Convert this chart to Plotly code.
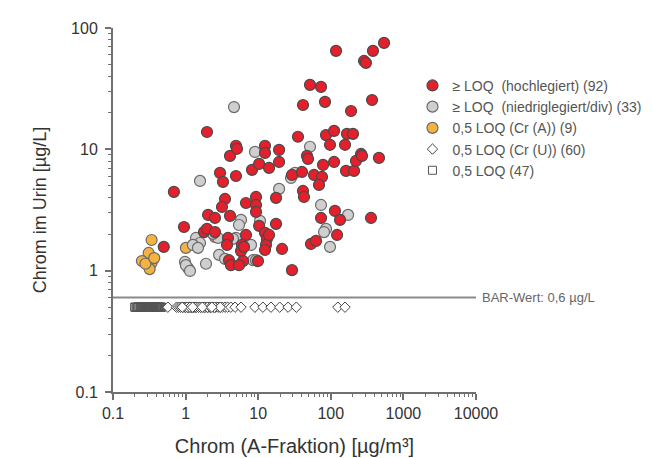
import math
import plotly.graph_objects as go

# ≥ LOQ (hochlegiert): Chrom A-Fraktion [µg/m³], Chrom im Urin [µg/L]
red_x = [118, 381, 541, 287, 305, 51.7, 73.3, 41.4, 83.2, 190, 370, 1.97, 4.94, 35.3, 85.9,
         111, 167, 202, 97.5, 157, 12.4, 19.4, 12.4, 4.09, 47.0, 261, 461, 2.98, 3.27, 4.94,
         8.22, 10.3, 14.1, 19.4, 29.2, 40.1, 58.7, 75.7, 68.8, 78.1, 111, 162, 209, 222, 0.69,
         3.49, 3.17, 6.79, 9.33, 9.33, 9.33, 17.6, 41.4, 42.7, 2.04, 2.54, 4.09, 0.95, 1.79,
         1.97, 2.54, 10.3, 17.6, 12.4, 13.2, 6.79, 3.84, 3.72, 5.98, 12.8, 12.4, 5.80, 21.3,
         0.50, 3.96, 4.22, 6.18, 5.44, 9.94, 29.2, 53.3, 62.6, 73.3, 114, 134, 122, 358,
         5.11, 48.5, 14.1, 6.37, 269]
red_y = [64.8, 64.8, 75.4, 53.5, 51.6, 34.0, 32.7, 23.2, 24.6, 20.7, 25.5, 13.9, 10.7, 12.7, 13.1,
         14.2, 13.4, 13.4, 10.9, 10.9, 10.7, 9.89, 9.34, 8.83, 8.83, 9.16, 8.50, 6.39, 5.39, 6.03,
         6.77, 7.58, 7.03, 7.87, 6.15, 6.51, 6.15, 5.92, 5.09, 7.44, 7.87, 6.64, 6.64, 8.02, 4.46,
         3.90, 3.35, 3.61, 4.05, 3.48, 3.05, 3.98, 4.54, 4.05, 2.88, 2.72, 2.83, 2.29, 2.08,
         2.21, 2.08, 2.34, 2.43, 2.05, 1.83, 1.97, 1.86, 1.63, 1.63, 1.63, 1.48, 1.45, 1.51,
         1.57, 1.22, 1.11, 1.20, 1.11, 1.20, 1.01, 1.66, 1.76, 2.72, 3.11, 2.62, 1.97, 2.72,
         10.1, 8.34, 1.97, 1.57, 8.83]

# ≥ LOQ (niedriglegiert/div)
gray_x = [4.64, 9.04, 51.7, 1.58, 28.3, 19.4, 73.3, 173, 85.9, 80.6, 97.5, 5.80, 5.44, 10.6,
          1.39, 1.58, 1.26, 1.48, 2.79, 4.94, 7.96, 2.89, 3.49, 8.48, 1.91, 0.98, 1.08, 1.01,
          1.15, 4.50, 9.33, 32.1, 2.38]
gray_y = [22.3, 9.52, 10.5, 5.49, 5.81, 4.72, 3.48, 2.88, 2.21, 2.08, 1.57, 2.62, 2.38, 2.57,
          1.86, 1.69, 1.63, 1.54, 1.86, 1.86, 1.63, 1.35, 1.25, 1.22, 1.14, 1.18, 1.05, 1.11,
          0.995, 1.83, 1.22, 6.39, 2.01]

# 0,5 LOQ (Cr (A))
orange_x = [0.34, 0.31, 0.25, 0.34, 0.32, 1.01, 2.54, 0.28, 0.37]
orange_y = [1.79, 1.40, 1.20, 1.16, 1.03, 1.54, 1.90, 1.14, 1.27]

# 0,5 LOQ (Cr (U)) – urine at 0.5 LOQ
diamond_x = [0.57, 0.75, 0.8, 0.85, 0.9, 0.95, 1.0, 1.0, 1.05, 1.1, 1.15, 1.2, 1.25, 1.3, 1.35,
             1.4, 1.5, 1.6, 1.7, 1.8, 1.9, 2.0, 2.1, 2.2, 2.4, 2.6, 2.8, 3.0, 3.2, 3.5, 3.8,
             4.2, 4.8, 5.8, 9.0, 11.6, 15, 19.8, 25.8, 33.5, 125, 157, 1.0, 1.1, 1.2, 1.3,
             1.4, 1.5, 1.6, 1.8, 2.0, 2.2, 2.5, 3.0, 1.05, 1.15, 1.25, 1.7, 2.3, 0.9]
diamond_y = [0.5] * len(diamond_x)

# 0,5 LOQ (both)
square_x = [0.2, 0.2, 0.21, 0.22, 0.22, 0.23, 0.24, 0.24, 0.25, 0.25, 0.26, 0.26, 0.27, 0.28,
            0.28, 0.29, 0.3, 0.3, 0.3, 0.31, 0.32, 0.32, 0.33, 0.34, 0.35, 0.35, 0.36, 0.37,
            0.38, 0.38, 0.39, 0.4, 0.4, 0.41, 0.42, 0.42, 0.43, 0.44, 0.45, 0.45, 0.46, 0.47,
            0.22, 0.25, 0.3, 0.35, 0.4]
square_y = [0.5] * len(square_x)

bar_value = 0.6
x_ticks = [0.1, 1, 10, 100, 1000, 10000]
x_ticklabels = ["0.1", "1", "10", "100", "1000", "10000"]
y_ticks = [0.1, 1, 10, 100]
y_ticklabels = ["0.1", "1", "10", "100"]

NB = "\u00a0"
fig = go.Figure()
fig.add_trace(go.Scatter(
    x=[0.1, 11000], y=[bar_value, bar_value], mode="lines", cliponaxis=False,
    line=dict(color="#8a8a8a", width=2), showlegend=False, hoverinfo="skip"))
fig.add_trace(go.Scatter(
    x=square_x, y=square_y, mode="markers", name="0,5 LOQ (47)",
    marker=dict(symbol="square-open", size=8, color="#555555", line=dict(width=1))))
fig.add_trace(go.Scatter(
    x=diamond_x, y=diamond_y, mode="markers", name="0,5 LOQ (Cr (U)) (60)",
    marker=dict(symbol="diamond", size=8, color="white", line=dict(color="#444444", width=1))))
fig.add_trace(go.Scatter(
    x=orange_x, y=orange_y, mode="markers", name="0,5 LOQ (Cr (A)) (9)",
    marker=dict(symbol="circle", size=11, color="#f4b340", line=dict(color="#6a6a6a", width=1.2))))
fig.add_trace(go.Scatter(
    x=gray_x, y=gray_y, mode="markers", name=f"≥ LOQ{NB}{NB}(niedriglegiert/div) (33)",
    marker=dict(symbol="circle", size=11, color="#cfcfcf", line=dict(color="#6a6a6a", width=1.2))))
fig.add_trace(go.Scatter(
    x=red_x, y=red_y, mode="markers", name=f"≥ LOQ{NB}{NB}(hochlegiert) (92)",
    marker=dict(symbol="circle", size=11, color="#e3202c", line=dict(color="#4a4a4a", width=1.2))))

fig.add_annotation(x=1.01, xref="paper", y=math.log10(bar_value), yref="y",
                   yanchor="middle", xanchor="left",
                   text="BAR-Wert: 0,6 µg/L", showarrow=False,
                   font=dict(size=13, color="#666666"))

axis_common = dict(
    type="log", showgrid=False, zeroline=False, showline=True, linecolor="#707070", linewidth=2,
    ticks="outside", ticklen=6, tickwidth=1.5, tickcolor="#707070",
    tickfont=dict(size=16, color="#333333"),
    minor=dict(ticks="outside", ticklen=3, tickwidth=1, tickcolor="#707070", dtick="D1"),
)
fig.update_layout(
    width=653, height=458,
    margin=dict(l=105, r=185, t=20, b=74, autoexpand=False),
    paper_bgcolor="white", plot_bgcolor="white",
    font=dict(family="Liberation Sans, Arial, sans-serif", color="#333333"),
    xaxis=dict(range=[-1, 4], tickvals=x_ticks, ticktext=x_ticklabels,
               title=dict(text="Chrom (A-Fraktion) [µg/m³]", font=dict(size=20, color="#333333"), standoff=18),
               **axis_common),
    yaxis=dict(range=[-1, 2], tickvals=y_ticks, ticktext=y_ticklabels, ticklabelstandoff=4,
               title=dict(text="Chrom im Urin [µg/L]", font=dict(size=18, color="#333333"), standoff=20),
               **axis_common),
    legend=dict(x=0.825, y=0.885, xanchor="left", yanchor="top", traceorder="reversed",
                font=dict(size=14, color="#555555"), tracegroupgap=0, itemwidth=30,
                bgcolor="rgba(0,0,0,0)"),
    showlegend=True,
)
fig.write_html("out.html")
